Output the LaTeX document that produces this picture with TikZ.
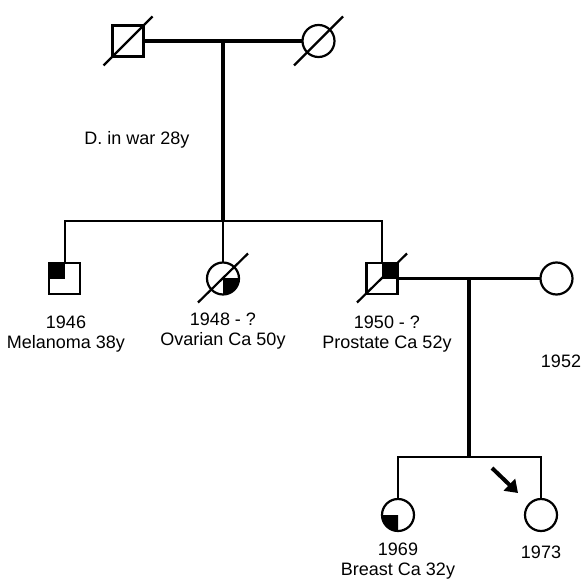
\documentclass[tikz,border=0pt]{standalone}
\usepackage{fontspec}
\setmainfont{Liberation Sans}
\usetikzlibrary{arrows.meta}
\begin{document}
\begin{tikzpicture}[x=1pt, y=-1pt, every node/.style={font=\fontsize{18}{20}\selectfont},
  male/.style={draw,line width=2.2pt,minimum size=31pt,inner sep=0pt,outer sep=0pt},
  female/.style={draw,circle,line width=2.2pt,minimum size=32pt,inner sep=0pt,outer sep=0pt},
  kin/.style={line width=2pt},
  mate/.style={line width=3.2pt},
  dead/.style={line width=2.2pt},
  proband/.style={line width=4pt,-{Triangle[length=12pt,width=16pt]}},
  lbl/.style={align=center,inner sep=0pt}]
  \useasboundingbox (0,0) rectangle (585,586);
  \node[male] (I1) at (128,41) {};
  \node[female] (I2) at (318.5,41) {};
  \coordinate (m1) at (223,41);
  \coordinate (s1) at (223,221);
  \node[male] (II1) at (64.5,278.5) {};
  \node[female] (II2) at (223,278.5) {};
  \node[male] (II3) at (382,278.5) {};
  \node[female] (II4) at (556.5,278.5) {};
  \coordinate (m2) at (469,278.5);
  \coordinate (s2) at (469,457);
  \node[female] (III1) at (398,515) {};
  \node[female] (III2) at (541,515) {};
  \fill (II1.center) rectangle (II1.north west);
  \fill (II3.center) rectangle (II3.north east);
  \begin{scope}
    \clip (II2.center) rectangle ([shift={(20,20)}]II2.center);
    \fill (II2.center) circle[radius=16pt];
  \end{scope}
  \begin{scope}
    \clip (III1.center) rectangle ([shift={(-20,20)}]III1.center);
    \fill (III1.center) circle[radius=16pt];
  \end{scope}
  \draw[mate] (I1) -- (I2);
  \draw[mate] (m1) -- (s1);
  \draw[kin] (II1.north) -- (II1.north |- s1) -| (II3.north);
  \draw[kin] (II2.north) -- (II2.north |- s1);
  \draw[mate] (II3) -- (II4);
  \draw[mate] (m2) -- (s2);
  \draw[kin] (III1.north) -- (III1.north |- s2) -| (III2.north);
  \draw[dead] ([shift={(-24.5,24.5)}]I1.center) -- ([shift={(24.5,-24.5)}]I1.center);
  \draw[dead] ([shift={(-24.5,24.5)}]I2.center) -- ([shift={(24.5,-24.5)}]I2.center);
  \draw[dead] ([shift={(-25,24)}]II2.center) -- ([shift={(25,-25)}]II2.center);
  \draw[dead] ([shift={(-25,24)}]II3.center) -- ([shift={(25,-25)}]II3.center);
  \coordinate (pa) at ([shift={(-49,-47)}]III2.center);
  \coordinate (pb) at ([shift={(-23,-22)}]III2.center);
  \draw[proband] (pa) -- (pb);
  \node[lbl] (t1) at (66,334.5) {1946\\Melanoma 38y};
  \node[lbl] (t2) at (223,331.5) {1948 - ?\\Ovarian Ca 50y};
  \node[lbl] (t3) at (387,334.5) {1950 - ?\\Prostate Ca 52y};
  \node[lbl] (t4) at (561,361) {1952};
  \node[lbl] (t5) at (137,140) {D. in war 28y};
  \node[lbl] (t6) at (398,561) {1969\\Breast Ca 32y};
  \node[lbl] (t7) at (541,552) {1973};
\end{tikzpicture}
\end{document}
